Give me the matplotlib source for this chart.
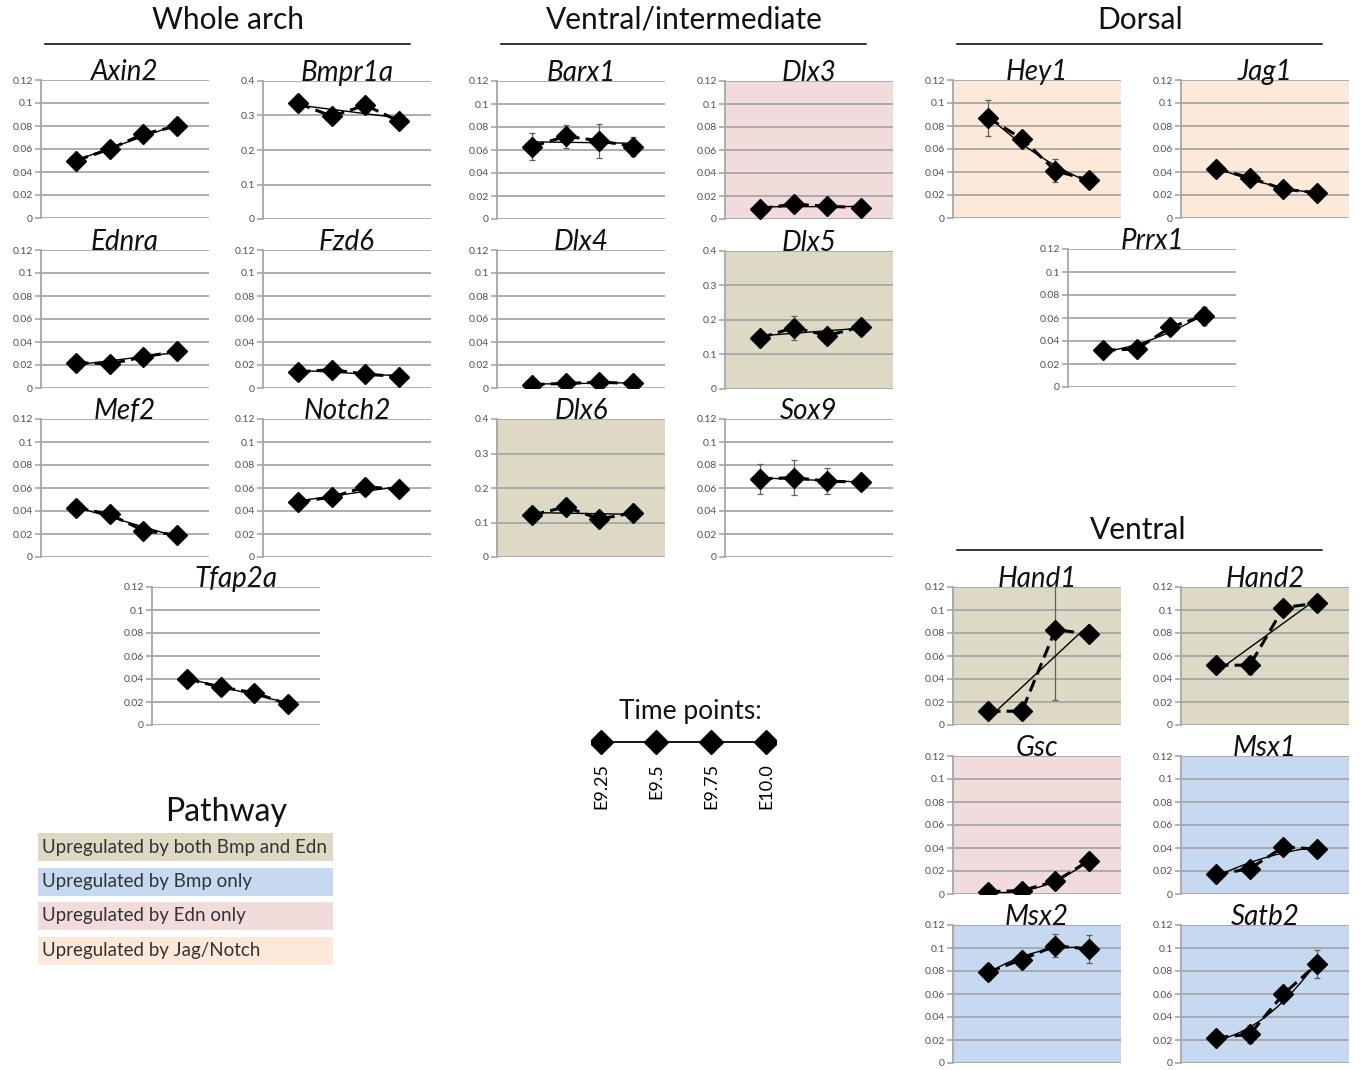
import matplotlib.pyplot as plt
from matplotlib.lines import Line2D
from matplotlib.patches import Rectangle
import numpy as np

plt.rcParams['font.family'] = ['Lato', 'DejaVu Sans']

W, H = 1360, 1070

# --- data: mean expression at the four time points, and error bars ---
time_points = ['E9.25', 'E9.5', 'E9.75', 'E10.0']

axin2 = [0.050, 0.060, 0.073, 0.080]
axin2_err = [0.002, 0.002, 0.003, 0.002]
bmpr1a = [0.335, 0.298, 0.330, 0.283]
bmpr1a_err = [0.022, 0.010, 0.010, 0.010]
ednra = [0.022, 0.021, 0.027, 0.032]
ednra_err = [0.002, 0.001, 0.002, 0.002]
fzd6 = [0.014, 0.016, 0.012, 0.010]
fzd6_err = [0.001, 0.001, 0.001, 0.001]
mef2 = [0.043, 0.037, 0.023, 0.019]
mef2_err = [0.003, 0.002, 0.002, 0.001]
notch2 = [0.048, 0.052, 0.061, 0.059]
notch2_err = [0.003, 0.003, 0.002, 0.002]
tfap2a = [0.040, 0.033, 0.028, 0.018]
tfap2a_err = [0.002, 0.002, 0.002, 0.001]

barx1 = [0.063, 0.072, 0.068, 0.063]
barx1_err = [0.012, 0.010, 0.015, 0.008]
dlx3 = [0.009, 0.013, 0.011, 0.010]
dlx3_err = [0.001, 0.001, 0.001, 0.001]
dlx4 = [0.003, 0.004, 0.005, 0.004]
dlx4_err = [0.001, 0.001, 0.001, 0.001]
dlx5 = [0.148, 0.178, 0.155, 0.180]
dlx5_err = [0.010, 0.035, 0.020, 0.010]
dlx6 = [0.122, 0.145, 0.110, 0.128]
dlx6_err = [0.006, 0.008, 0.006, 0.005]
sox9 = [0.068, 0.069, 0.066, 0.065]
sox9_err = [0.013, 0.015, 0.011, 0.001]

hey1 = [0.087, 0.069, 0.041, 0.033]
hey1_err = [0.016, 0.005, 0.010, 0.002]
jag1 = [0.043, 0.035, 0.025, 0.022]
jag1_err = [0.004, 0.002, 0.001, 0.001]
prrx1 = [0.032, 0.033, 0.052, 0.062]
prrx1_err = [0.002, 0.006, 0.002, 0.008]

hand1 = [0.012, 0.012, 0.083, 0.079]
hand1_err = [0.002, 0.005, 0.061, 0.002]
hand2 = [0.052, 0.052, 0.102, 0.106]
hand2_err = [0.002, 0.008, 0.002, 0.002]
gsc = [0.002, 0.003, 0.011, 0.029]
gsc_err = [0.001, 0.001, 0.002, 0.007]
msx1 = [0.017, 0.022, 0.041, 0.039]
msx1_err = [0.001, 0.002, 0.002, 0.001]
msx2 = [0.079, 0.090, 0.102, 0.099]
msx2_err = [0.007, 0.003, 0.010, 0.012]
satb2 = [0.022, 0.025, 0.060, 0.086]
satb2_err = [0.002, 0.008, 0.003, 0.012]

pathway_labels = ['Upregulated by both Bmp and Edn', 'Upregulated by Bmp only',
                  'Upregulated by Edn only', 'Upregulated by Jag/Notch']

# --- colours ---
TAN, BLUE, PINK, PEACH = '#DDD9C4', '#C6D9F1', '#F2DCDB', '#FDE9D9'
pathway_colors = [TAN, BLUE, PINK, PEACH]
GRID = '#A6A6A6'

fig = plt.figure(figsize=(13.6, 10.7), dpi=100)


def panel(left, top, name, means, errs, ymax=0.12, bg='white', deg=1,
          width=168, height=138):
    ax = fig.add_axes([left / W, 1 - (top + height) / H, width / W, height / H])
    ax.set_facecolor(bg)
    x = np.arange(1, 5)
    ax.set_xlim(-0.05, 4.95)
    ax.set_ylim(0, ymax)
    n = 7 if ymax < 0.2 else 5
    ticks = np.linspace(0, ymax, n)
    ax.set_yticks(ticks, ['%g' % round(t, 2) for t in ticks])
    ax.set_xticks([])
    ax.yaxis.grid(True, color=GRID, lw=1.3)
    ax.set_axisbelow(True)
    for s in ['top', 'right', 'bottom']:
        ax.spines[s].set_visible(False)
    ax.spines['left'].set_color(GRID)
    ax.spines['left'].set_linewidth(1.3)
    ax.tick_params(axis='y', length=4, width=1.2, color=GRID, labelsize=7.5,
                   labelcolor='#505050', pad=2)
    ax.errorbar(x, means, yerr=errs, fmt='none', ecolor='#606060',
                elinewidth=0.9, capsize=2.5, capthick=0.9, zorder=2)
    coef = np.polyfit(x, means, deg)
    xs = np.linspace(1, 4, 60)
    ax.plot(xs, np.polyval(coef, xs), color='black', lw=1.0, zorder=3)
    ax.plot(x, means, ls=(0, (4, 2)), color='black', lw=2.2, marker='D',
            ms=10, zorder=4)
    ax.text(0.5, 1.0, name, transform=ax.transAxes, ha='center',
            va='baseline', fontsize=20, style='italic', color='#111111')
    return ax


def header(cx, y, text, x0, x1, ly):
    fig.text(cx / W, 1 - y / H, text, ha='center', va='center', fontsize=21.5,
             color='#111111')
    fig.add_artist(Line2D([x0 / W, x1 / W], [1 - ly / H, 1 - ly / H],
                          color='black', lw=1.1))


# --- section headers ---
header(228, 20, 'Whole arch', 45, 410, 44)
header(684, 20, 'Ventral/intermediate', 501, 866, 44)
header(1140, 20, 'Dorsal', 957, 1322, 44)
header(1138, 530, 'Ventral', 957, 1322, 550)

# --- whole arch ---
panel(41, 80, 'Axin2', axin2, axin2_err)
panel(263, 81, 'Bmpr1a', bmpr1a, bmpr1a_err, ymax=0.4)
panel(41, 250, 'Ednra', ednra, ednra_err)
panel(263, 250, 'Fzd6', fzd6, fzd6_err)
panel(41, 419, 'Mef2', mef2, mef2_err)
panel(263, 419, 'Notch2', notch2, notch2_err)
panel(152, 587, 'Tfap2a', tfap2a, tfap2a_err)

# --- ventral/intermediate ---
panel(497, 81, 'Barx1', barx1, barx1_err)
panel(725, 81, 'Dlx3', dlx3, dlx3_err, bg=PINK)
panel(497, 250, 'Dlx4', dlx4, dlx4_err)
panel(725, 251, 'Dlx5', dlx5, dlx5_err, ymax=0.4, bg=TAN)
panel(497, 419, 'Dlx6', dlx6, dlx6_err, ymax=0.4, bg=TAN)
panel(725, 419, 'Sox9', sox9, sox9_err)

# --- dorsal ---
panel(953, 80, 'Hey1', hey1, hey1_err, bg=PEACH, deg=2)
panel(1181, 80, 'Jag1', jag1, jag1_err, bg=PEACH, deg=2)
panel(1068, 249, 'Prrx1', prrx1, prrx1_err, deg=2)

# --- ventral ---
panel(953, 587, 'Hand1', hand1, hand1_err, bg=TAN)
panel(1181, 587, 'Hand2', hand2, hand2_err, bg=TAN)
panel(953, 756, 'Gsc', gsc, gsc_err, bg=PINK, deg=2)
panel(1181, 756, 'Msx1', msx1, msx1_err, bg=BLUE, deg=2)
panel(953, 925, 'Msx2', msx2, msx2_err, bg=BLUE, deg=2)
panel(1181, 925, 'Satb2', satb2, satb2_err, bg=BLUE, deg=2)

# --- time points key ---
fig.text(690 / W, 1 - 712 / H, 'Time points:', ha='center', va='center',
         fontsize=19, color='#111111')
tax = fig.add_axes([591 / W, 1 - 755 / H, 185 / W, 26 / H])
tax.plot(np.arange(1, 5), np.zeros(4), color='black', lw=1.3, marker='D', ms=12)
tax.set_xlim(0.82, 4.18)
tax.set_ylim(-1, 1)
tax.set_xticks(np.arange(1, 5), time_points, rotation=90, fontsize=13)
tax.tick_params(axis='x', length=0, pad=6)
tax.set_yticks([])
for s in tax.spines.values():
    s.set_visible(False)
tax.patch.set_alpha(0)

# --- pathway legend ---
fig.text(226 / W, 1 - 812 / H, 'Pathway', ha='center', va='center',
         fontsize=23, color='#111111')
for i, (lab, col) in enumerate(zip(pathway_labels, pathway_colors)):
    y0 = 833 + i * 34.5
    fig.add_artist(Rectangle((38 / W, 1 - (y0 + 28) / H), 295 / W, 28 / H,
                             transform=fig.transFigure, color=col, lw=0))
    fig.text(42 / W, 1 - (y0 + 14) / H, lab, ha='left', va='center',
             fontsize=13.5, color='#333333')

fig.savefig('out.png', dpi=100)
